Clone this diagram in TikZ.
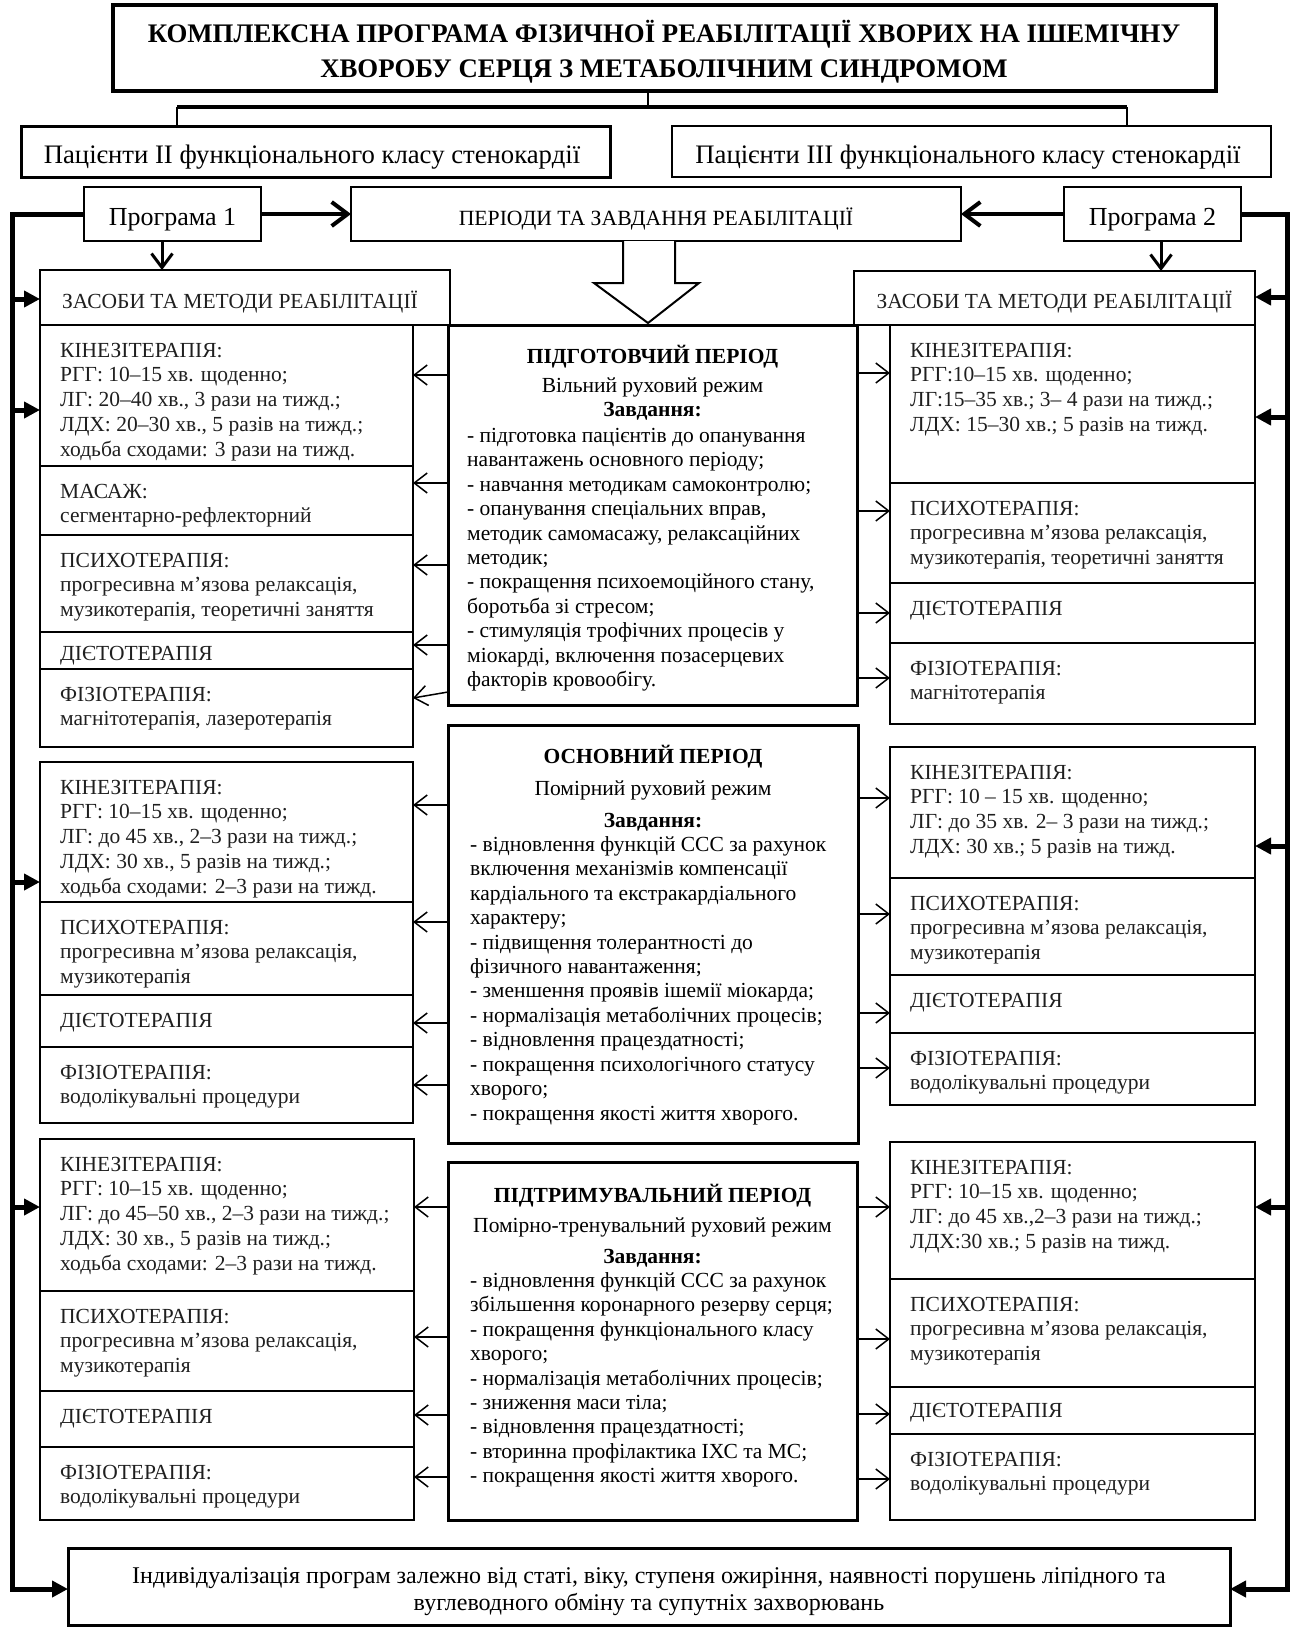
\documentclass[tikz,border=0pt]{standalone}
\usepackage{fontspec}
\setmainfont{Liberation Serif}
\usetikzlibrary{arrows.meta}
\newcommand\fstrut{\rule{0pt}{20pt}}
\newcommand\mkbox[6][sidebox]{%
  \pgfmathsetmacro\mkw{#5-#3}%
  \pgfmathsetmacro\mkh{#6-#4}%
  \node[#1,minimum width=\mkw pt,minimum height=\mkh pt] (#2) at ({(#3+#5)/2},{(#4+#6)/2}) {};}
\newcommand\stext[2]{\node[sidetext] (#1-t) at ([shift={(20pt,-12pt)}]#1.north west) {\fstrut #2};}
\tikzset{
  sidebox/.style={draw,line width=2pt,inner sep=0pt,outer sep=0pt,rectangle},
  cbox/.style={sidebox,line width=3pt},
  titlebox/.style={sidebox,line width=4pt},
  pbox/.style={sidebox,line width=2.5pt},
  thinbox/.style={sidebox,line width=1.5pt},
  sidetext/.style={anchor=north west,inner sep=0pt,align=left,font=\fontsize{21.5}{24.7}\selectfont,text=black!88},
  ctext/.style={anchor=north west,inner sep=0pt,align=left,font=\fontsize{21.5}{24.45}\selectfont},
  chead/.style={anchor=north,inner sep=0pt,align=center,font=\fontsize{21.5}{24.5}\selectfont},
  lbl/.style={anchor=base,inner sep=0pt},
  tarr/.style={line width=1.5pt,-{Straight Barb[length=13pt,width=20pt]}},
  parr/.style={line width=4pt,-{Straight Barb[length=16pt,width=24pt]}},
  darr/.style={line width=3pt,-{Straight Barb[length=14pt,width=21pt]}},
  tharr/.style={line width=5pt,-{Triangle[length=16pt,width=16pt]}},
}
\begin{document}
\begin{tikzpicture}[x=1pt,y=-1pt]
\useasboundingbox (0,0) rectangle (1290,1628);
% ---------- title ----------
\mkbox[titlebox]{title}{113}{5}{1216}{91}
\node[anchor=north,inner sep=0pt,align=center,font=\fontsize{26.8}{35}\selectfont\bfseries] (title-t) at (664,17)
  {\rule{0pt}{25pt}КОМПЛЕКСНА ПРОГРАМА ФІЗИЧНОЇ РЕАБІЛІТАЦІЇ ХВОРИХ НА ІШЕМІЧНУ\\ХВОРОБУ СЕРЦЯ З МЕТАБОЛІЧНИМ СИНДРОМОМ};
% ---------- patients ----------
\mkbox[cbox]{pat1}{21}{126}{610}{177}
\mkbox[thinbox]{pat2}{672}{126}{1271}{177}
\node[lbl,font=\fontsize{26.7}{30}\selectfont] (pat1-t) at (312,163) {Пацієнти II функціонального класу стенокардії};
\node[lbl,font=\fontsize{26.7}{30}\selectfont] (pat2-t) at (968,163) {Пацієнти III функціонального класу стенокардії};
\coordinate (tj) at (648,107);
\coordinate (tl) at (177,107);
\coordinate (tr) at (1127,107);
\draw[line width=2pt] (title.south -| tj) -- (tj);
\draw[line width=3.5pt] (tl) -- (tr);
\draw[line width=2pt] (tl) -- (tl |- pat1.north);
\draw[line width=2pt] (tr) -- (tr |- pat2.north);
% ---------- programs ----------
\mkbox[pbox]{p1}{84}{187}{261}{241}
\mkbox[pbox]{per}{351}{187}{961}{241}
\mkbox[pbox]{p2}{1064}{187}{1241}{241}
\node[lbl,font=\fontsize{26}{30}\selectfont] (p1-t) at (172.5,225) {Програма 1};
\node[lbl,font=\fontsize{26}{30}\selectfont] (p2-t) at (1152.5,225) {Програма 2};
\node[lbl,font=\fontsize{21.7}{24}\selectfont] (per-t) at (656,225) {ПЕРІОДИ ТА ЗАВДАННЯ РЕАБІЛІТАЦІЇ};
\draw[parr] (p1.east) -- (per.west);
\draw[parr] (p2.west) -- (per.east);
% ---------- means and methods ----------
\mkbox{zl}{40}{270}{450}{325}
\mkbox{zr}{854}{271}{1255}{325}
\node[lbl,font=\fontsize{21.5}{24}\selectfont,text=black!88] (zl-t) at (240,308) {ЗАСОБИ ТА МЕТОДИ РЕАБІЛІТАЦІЇ};
\node[lbl,font=\fontsize{21.5}{24}\selectfont,text=black!88] (zr-t) at (1054.5,308) {ЗАСОБИ ТА МЕТОДИ РЕАБІЛІТАЦІЇ};
\draw[darr] (p1.south -| 162,0) -- (zl.north -| 162,0);
\draw[darr] (p2.south -| 1161,0) -- (zr.north -| 1161,0);
% big hollow arrow
\draw[line width=2pt,fill=white,line join=miter]
  (623,241) -- (623,283) -- (594,283) -- (648,323) -- (699,283) -- (675,283) -- (675,241);
% ---------- centre boxes ----------
\mkbox[cbox]{cP}{448}{325}{857}{705}
\mkbox[cbox]{cM}{448}{725}{858}{1143}
\mkbox[cbox]{cS}{448}{1162}{857}{1520}
\node[chead] (cP-h) at (652.5,343) {\fstrut\textbf{ПІДГОТОВЧИЙ ПЕРІОД}\\[4.5pt]Вільний руховий режим\\\textbf{Завдання:}};
\node[ctext] (cP-t) at (467,422) {\fstrut - підготовка пацієнтів до опанування\\навантажень основного періоду;\\- навчання методикам самоконтролю;\\- опанування спеціальних вправ,\\методик самомасажу, релаксаційних\\методик;\\- покращення психоемоційного стану,\\боротьба зі стресом;\\- стимуляція трофічних процесів у\\міокарді, включення позасерцевих\\факторів кровообігу.};
\node[chead] (cM-h) at (653,743) {\fstrut\textbf{ОСНОВНИЙ ПЕРІОД}\\[7.5pt]Помірний руховий режим\\[7.5pt]\textbf{Завдання:}};
\node[ctext] (cM-t) at (470,831) {\fstrut - відновлення функцій ССС за рахунок\\включення механізмів компенсації\\кардіального та екстракардіального\\характеру;\\- підвищення толерантності до\\фізичного навантаження;\\- зменшення проявів ішемії міокарда;\\- нормалізація метаболічних процесів;\\- відновлення працездатності;\\- покращення психологічного статусу\\хворого;\\- покращення якості життя хворого.};
\node[chead] (cS-h) at (652.5,1182) {\fstrut\textbf{ПІДТРИМУВАЛЬНИЙ ПЕРІОД}\\[5.5pt]Помірно-тренувальний руховий режим\\[6.5pt]\textbf{Завдання:}};
\node[ctext] (cS-t) at (470,1267) {\fstrut - відновлення функцій ССС за рахунок\\збільшення коронарного резерву серця;\\- покращення функціонального класу\\хворого;\\- нормалізація метаболічних процесів;\\- зниження маси тіла;\\- відновлення працездатності;\\- вторинна профілактика ІХС та МС;\\- покращення якості життя хворого.};
% ---------- left column: preparatory ----------
\mkbox{LPk}{40}{325}{413}{466}
\mkbox{LPm}{40}{466}{413}{535}
\mkbox{LPp}{40}{535}{413}{632}
\mkbox{LPd}{40}{632}{413}{669}
\mkbox{LPf}{40}{669}{413}{747}
\stext{LPk}{КІНЕЗІТЕРАПІЯ:\\РГГ: 10–15 хв. щоденно;\\ЛГ: 20–40 хв., 3 рази на тижд.;\\ЛДХ: 20–30 хв., 5 разів на тижд.;\\ходьба сходами: 3 рази на тижд.}
\stext{LPm}{МАСАЖ:\\сегментарно-рефлекторний}
\stext{LPp}{ПСИХОТЕРАПІЯ:\\прогресивна м’язова релаксація,\\музикотерапія, теоретичні заняття}
\node[sidetext] (LPd-t) at ([shift={(20pt,-8pt)}]LPd.north west) {\fstrut ДІЄТОТЕРАПІЯ};
\stext{LPf}{ФІЗІОТЕРАПІЯ:\\магнітотерапія, лазеротерапія}
% ---------- right column: preparatory ----------
\mkbox{RPk}{890}{325}{1255}{483}
\mkbox{RPp}{890}{483}{1255}{583}
\mkbox{RPd}{890}{583}{1255}{643}
\mkbox{RPf}{890}{643}{1255}{724}
\stext{RPk}{КІНЕЗІТЕРАПІЯ:\\РГГ:10–15 хв. щоденно;\\ЛГ:15–35 хв.; 3– 4 рази на тижд.;\\ЛДХ: 15–30 хв.; 5 разів на тижд.}
\stext{RPp}{ПСИХОТЕРАПІЯ:\\прогресивна м’язова релаксація,\\музикотерапія, теоретичні заняття}
\stext{RPd}{ДІЄТОТЕРАПІЯ}
\stext{RPf}{ФІЗІОТЕРАПІЯ:\\магнітотерапія}
% ---------- left column: main ----------
\mkbox{LMk}{40}{762}{413}{902}
\mkbox{LMp}{40}{902}{413}{995}
\mkbox{LMd}{40}{995}{413}{1047}
\mkbox{LMf}{40}{1047}{413}{1123}
\stext{LMk}{КІНЕЗІТЕРАПІЯ:\\РГГ: 10–15 хв. щоденно;\\ЛГ: до 45 хв., 2–3 рази на тижд.;\\ЛДХ: 30 хв., 5 разів на тижд.;\\ходьба сходами: 2–3 рази на тижд.}
\stext{LMp}{ПСИХОТЕРАПІЯ:\\прогресивна м’язова релаксація,\\музикотерапія}
\stext{LMd}{ДІЄТОТЕРАПІЯ}
\stext{LMf}{ФІЗІОТЕРАПІЯ:\\водолікувальні процедури}
% ---------- right column: main ----------
\mkbox{RMk}{890}{747}{1255}{878}
\mkbox{RMp}{890}{878}{1255}{975}
\mkbox{RMd}{890}{975}{1255}{1033}
\mkbox{RMf}{890}{1033}{1255}{1105}
\stext{RMk}{КІНЕЗІТЕРАПІЯ:\\РГГ: 10 – 15 хв. щоденно;\\ЛГ: до 35 хв. 2– 3 рази на тижд.;\\ЛДХ: 30 хв.; 5 разів на тижд.}
\stext{RMp}{ПСИХОТЕРАПІЯ:\\прогресивна м’язова релаксація,\\музикотерапія}
\stext{RMd}{ДІЄТОТЕРАПІЯ}
\stext{RMf}{ФІЗІОТЕРАПІЯ:\\водолікувальні процедури}
% ---------- left column: maintenance ----------
\mkbox{LSk}{40}{1139}{414}{1291}
\mkbox{LSp}{40}{1291}{414}{1391}
\mkbox{LSd}{40}{1391}{414}{1447}
\mkbox{LSf}{40}{1447}{414}{1520}
\stext{LSk}{КІНЕЗІТЕРАПІЯ:\\РГГ: 10–15 хв. щоденно;\\ЛГ: до 45–50 хв., 2–3 рази на тижд.;\\ЛДХ: 30 хв., 5 разів на тижд.;\\ходьба сходами: 2–3 рази на тижд.}
\stext{LSp}{ПСИХОТЕРАПІЯ:\\прогресивна м’язова релаксація,\\музикотерапія}
\stext{LSd}{ДІЄТОТЕРАПІЯ}
\stext{LSf}{ФІЗІОТЕРАПІЯ:\\водолікувальні процедури}
% ---------- right column: maintenance ----------
\mkbox{RSk}{890}{1142}{1255}{1279}
\mkbox{RSp}{890}{1279}{1255}{1387}
\mkbox{RSd}{890}{1387}{1255}{1434}
\mkbox{RSf}{890}{1434}{1255}{1520}
\stext{RSk}{КІНЕЗІТЕРАПІЯ:\\РГГ: 10–15 хв. щоденно;\\ЛГ: до 45 хв.,2–3 рази на тижд.;\\ЛДХ:30 хв.; 5 разів на тижд.}
\stext{RSp}{ПСИХОТЕРАПІЯ:\\прогресивна м’язова релаксація,\\музикотерапія}
\node[sidetext] (RSd-t) at ([shift={(20pt,-10pt)}]RSd.north west) {\fstrut ДІЄТОТЕРАПІЯ};
\stext{RSf}{ФІЗІОТЕРАПІЯ:\\водолікувальні процедури}
% ---------- bottom box ----------
\mkbox[cbox]{bot}{68}{1548}{1230}{1625}
\node[anchor=north,inner sep=0pt,align=center,font=\fontsize{24}{27}\selectfont] (bot-t) at (649,1561)
  {\rule{0pt}{22pt}Індивідуалізація програм залежно від статі, віку, ступеня ожиріння, наявності порушень ліпідного та\\вуглеводного обміну та супутніх захворювань};
% ---------- thin arrows centre -> left ----------
\draw[tarr] (cP.west |- 0,375) -- (LPk.east |- 0,375);
\draw[tarr] (cP.west |- 0,483) -- (LPm.east |- 0,483);
\draw[tarr] (cP.west |- 0,565) -- (LPp.east |- 0,565);
\draw[tarr] (cP.west |- 0,645) -- (LPd.east |- 0,645);
\draw[tarr] (cP.west |- 0,692) -- (LPf.east |- 0,698);
\draw[tarr] (cM.west |- 0,805) -- (LMk.east |- 0,805);
\draw[tarr] (cM.west |- 0,922) -- (LMp.east |- 0,922);
\draw[tarr] (cM.west |- 0,1023) -- (LMd.east |- 0,1023);
\draw[tarr] (cM.west |- 0,1085) -- (LMf.east |- 0,1085);
\draw[tarr] (cS.west |- 0,1207) -- (LSk.east |- 0,1207);
\draw[tarr] (cS.west |- 0,1337) -- (LSp.east |- 0,1337);
\draw[tarr] (cS.west |- 0,1415) -- (LSd.east |- 0,1415);
\draw[tarr] (cS.west |- 0,1477) -- (LSf.east |- 0,1477);
% ---------- thin arrows centre -> right ----------
\draw[tarr] (cP.east |- 0,373) -- (RPk.west |- 0,373);
\draw[tarr] (cP.east |- 0,511) -- (RPp.west |- 0,511);
\draw[tarr] (cP.east |- 0,613) -- (RPd.west |- 0,613);
\draw[tarr] (cP.east |- 0,678) -- (RPf.west |- 0,678);
\draw[tarr] (cM.east |- 0,798) -- (RMk.west |- 0,798);
\draw[tarr] (cM.east |- 0,914) -- (RMp.west |- 0,914);
\draw[tarr] (cM.east |- 0,1013) -- (RMd.west |- 0,1013);
\draw[tarr] (cM.east |- 0,1068) -- (RMf.west |- 0,1068);
\draw[tarr] (cS.east |- 0,1207) -- (RSk.west |- 0,1207);
\draw[tarr] (cS.east |- 0,1339) -- (RSp.west |- 0,1339);
\draw[tarr] (cS.east |- 0,1414) -- (RSd.west |- 0,1414);
\draw[tarr] (cS.east |- 0,1479) -- (RSf.west |- 0,1479);
% ---------- thick feedback lines ----------
\coordinate (Lb) at (12,1589);
\coordinate (Rb) at (1287,1589);
\draw[tharr] (p1.west) -| (Lb) -- (bot.west |- Lb);
\draw[tharr] (p2.east) -| (Rb) -- (bot.east |- Rb);
\draw[tharr] (Lb |- 0,299) -- (zl.west |- 0,299);
\draw[tharr] (Lb |- 0,410) -- (LPk.west |- 0,410);
\draw[tharr] (Lb |- 0,882) -- (LMk.west |- 0,882);
\draw[tharr] (Lb |- 0,1207) -- (LSk.west |- 0,1207);
\draw[tharr] (Rb |- 0,297) -- (zr.east |- 0,297);
\draw[tharr] (Rb |- 0,417) -- (RPk.east |- 0,417);
\draw[tharr] (Rb |- 0,846) -- (RMk.east |- 0,846);
\draw[tharr] (Rb |- 0,1207) -- (RSk.east |- 0,1207);
\end{tikzpicture}
\end{document}
